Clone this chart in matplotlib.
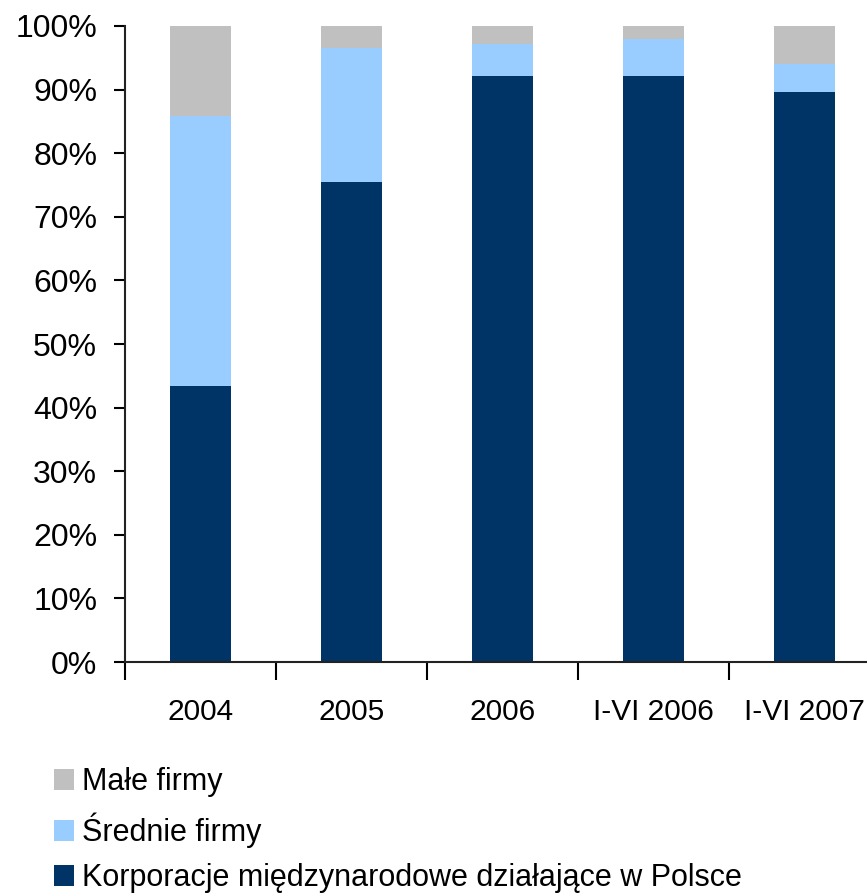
import numpy as np
import matplotlib.pyplot as plt
from matplotlib.ticker import PercentFormatter

plt.rcParams['font.family'] = ['Liberation Sans', 'DejaVu Sans']

categories = ["2004", "2005", "2006", "I-VI 2006", "I-VI 2007"]
korporacje = [43.4, 75.5, 92.1, 92.1, 89.6]
srednie = [42.4, 21.0, 5.1, 5.9, 4.4]
male = [14.2, 3.5, 2.8, 2.0, 6.0]

fig = plt.figure(figsize=(8.67, 8.93), dpi=100)
ax = fig.add_axes([125/867, 231/893, 755/867, 636/893])

x = np.arange(len(categories))
w = 0.41
b1 = ax.bar(x, korporacje, w, color="#003366", label="Korporacje międzynarodowe działające w Polsce")
b2 = ax.bar(x, srednie, w, bottom=korporacje, color="#99CCFF", label="Średnie firmy")
bottom3 = np.array(korporacje) + np.array(srednie)
b3 = ax.bar(x, male, w, bottom=bottom3, color="#C0C0C0", label="Małe firmy")

ax.set_xlim(-0.5, len(categories) - 0.5)
ax.set_ylim(0, 100)
ax.set_yticks(np.arange(0, 101, 10))
ax.yaxis.set_major_formatter(PercentFormatter(decimals=0))
ax.set_xticks(x)
ax.set_xticklabels(categories)
ax.set_xticks(np.arange(-0.5, len(categories), 1), minor=True)
ax.tick_params(axis='x', which='major', length=0, pad=26, labelsize=21.5)
ax.tick_params(axis='x', which='minor', length=13, width=1.5, direction='out')
ax.tick_params(axis='y', length=8, width=1.5, labelsize=23, pad=12)

for s in ["top", "right"]:
    ax.spines[s].set_visible(False)
for s in ["left", "bottom"]:
    ax.spines[s].set_linewidth(1.5)
    ax.spines[s].set_color("#222222")

fig.legend([b3, b2, b1], [b3.get_label(), b2.get_label(), b1.get_label()],
           loc="upper left", bbox_to_anchor=(42/867, 1 - 755/893), frameon=False,
           fontsize=22, handlelength=0.65, handleheight=0.7, handletextpad=0.25,
           labelspacing=0.5, borderaxespad=0)

fig.savefig("out.png", dpi=100)
